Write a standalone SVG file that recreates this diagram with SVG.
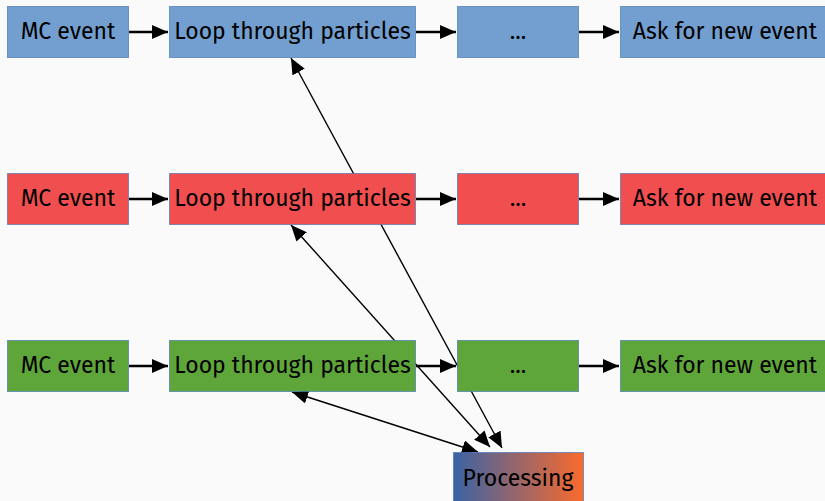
<svg xmlns="http://www.w3.org/2000/svg" width="825" height="501" viewBox="0 0 825 501">
<defs>
<marker id="ah" viewBox="0 0 16 14" refX="16" refY="7" markerWidth="16" markerHeight="14" markerUnits="userSpaceOnUse" orient="auto-start-reverse">
<path d="M0,0 L16,7 L0,14 Z" fill="#000"/>
</marker>
<marker id="ahs" viewBox="0 0 16 14" refX="16" refY="7" markerWidth="16" markerHeight="14" markerUnits="userSpaceOnUse" orient="auto-start-reverse">
<path d="M0,0 L16,7 L0,14 Z" fill="#000"/>
</marker>
<linearGradient id="pg" x1="0" y1="0" x2="1" y2="0">
<stop offset="0" stop-color="#3a63a5"/>
<stop offset="1" stop-color="#fa6a2c"/>
</linearGradient>
<style>
.box{stroke:#4a78b8;stroke-opacity:0.7;stroke-width:1}
.b{fill:#729fcf}.r{fill:#f14f4f}.g{fill:#5fa63a}
.t{font-family:"Fira Sans","Noto Sans","Open Sans",sans-serif;font-size:23px;fill:#000;text-anchor:middle}
.c{stroke:#000;stroke-width:1.4;fill:none}
.h{stroke:#000;stroke-width:2.5;fill:none}
</style>
</defs>
<rect width="825" height="501" fill="#fafafb"/>
<g id="connectors">
<line class="c" x1="502" y1="448" x2="291" y2="58" marker-start="url(#ahs)" marker-end="url(#ahs)"/>
<line class="c" x1="490" y1="447" x2="291" y2="225" marker-start="url(#ahs)" marker-end="url(#ahs)"/>
<line class="c" x1="478" y1="452" x2="292" y2="392" marker-start="url(#ahs)" marker-end="url(#ahs)"/>
<line class="h" x1="129" y1="32" x2="168" y2="32" marker-end="url(#ah)"/>
<line class="h" x1="416" y1="32" x2="456" y2="32" marker-end="url(#ah)"/>
<line class="h" x1="579" y1="32" x2="619" y2="32" marker-end="url(#ah)"/>
<line class="h" x1="129" y1="199" x2="168" y2="199" marker-end="url(#ah)"/>
<line class="h" x1="416" y1="199" x2="456" y2="199" marker-end="url(#ah)"/>
<line class="h" x1="579" y1="199" x2="619" y2="199" marker-end="url(#ah)"/>
<line class="h" x1="129" y1="366" x2="168" y2="366" marker-end="url(#ah)"/>
<line class="h" x1="416" y1="366" x2="456" y2="366" marker-end="url(#ah)"/>
<line class="h" x1="579" y1="366" x2="619" y2="366" marker-end="url(#ah)"/>
</g>
<g id="mc1"><rect class="box b" x="7.5" y="6.5" width="121" height="51"/><text class="t" x="68" y="39">MC event</text></g>
<g id="loop1"><rect class="box b" x="169.5" y="6.5" width="246" height="51"/><text class="t" x="292.5" y="39">Loop through particles</text></g>
<g id="dots1"><rect class="box b" x="457.5" y="6.5" width="121" height="51"/><text class="t" x="518" y="39">...</text></g>
<g id="ask1"><rect class="box b" x="620.5" y="6.5" width="210" height="51"/><text class="t" x="725" y="39">Ask for new event</text></g>
<g id="mc2"><rect class="box r" x="7.5" y="173.5" width="121" height="51"/><text class="t" x="68" y="206">MC event</text></g>
<g id="loop2"><rect class="box r" x="169.5" y="173.5" width="246" height="51"/><text class="t" x="292.5" y="206">Loop through particles</text></g>
<g id="dots2"><rect class="box r" x="457.5" y="173.5" width="121" height="51"/><text class="t" x="518" y="206">...</text></g>
<g id="ask2"><rect class="box r" x="620.5" y="173.5" width="210" height="51"/><text class="t" x="725" y="206">Ask for new event</text></g>
<g id="mc3"><rect class="box g" x="7.5" y="340.5" width="121" height="51"/><text class="t" x="68" y="373">MC event</text></g>
<g id="loop3"><rect class="box g" x="169.5" y="340.5" width="246" height="51"/><text class="t" x="292.5" y="373">Loop through particles</text></g>
<g id="dots3"><rect class="box g" x="457.5" y="340.5" width="121" height="51"/><text class="t" x="518" y="373">...</text></g>
<g id="ask3"><rect class="box g" x="620.5" y="340.5" width="210" height="51"/><text class="t" x="725" y="373">Ask for new event</text></g>
<g id="processing"><rect class="box" x="453.5" y="452.5" width="130" height="55" fill="url(#pg)"/><text class="t" x="518" y="486">Processing</text></g>
</svg>
